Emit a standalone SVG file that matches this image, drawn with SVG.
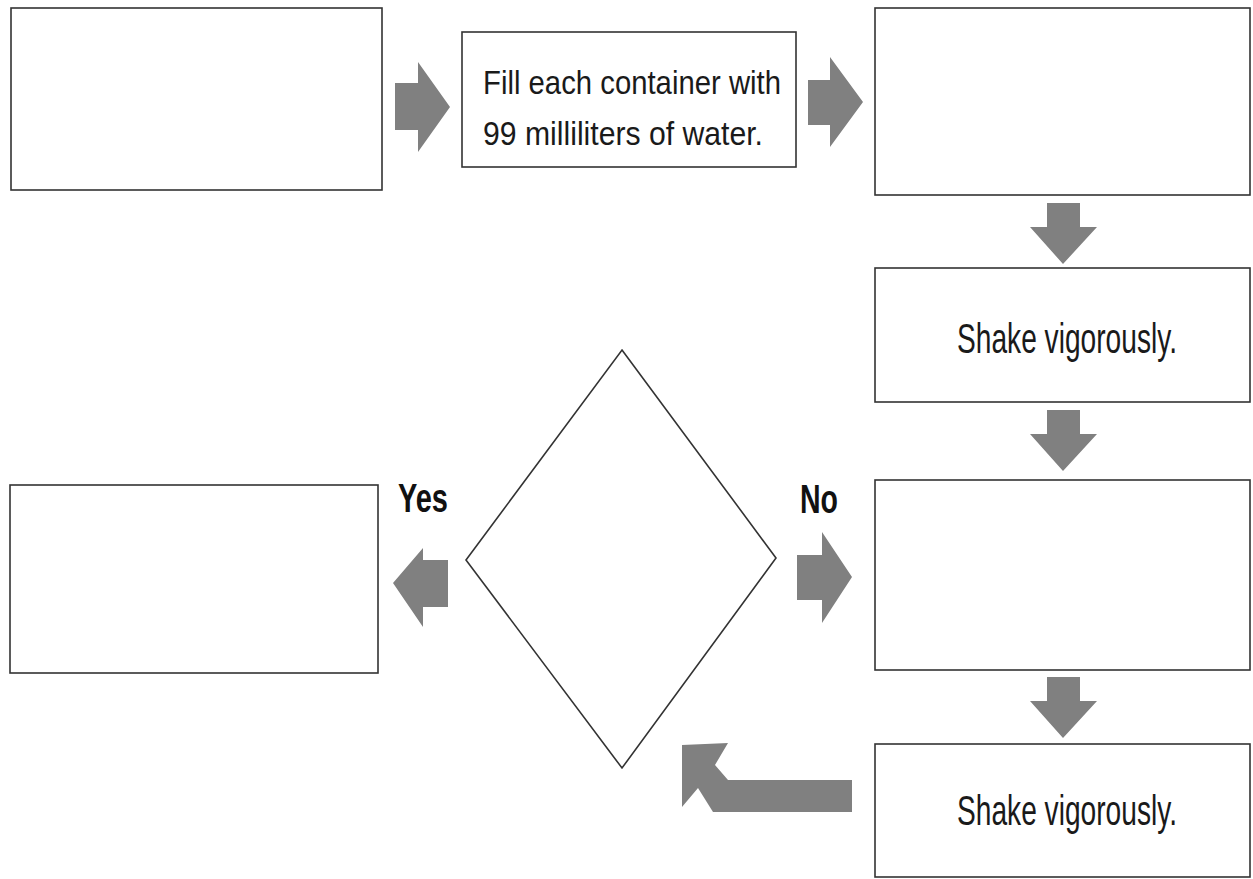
<svg xmlns="http://www.w3.org/2000/svg" width="1253" height="879" viewBox="0 0 1253 879">
<style>
.box{fill:#fff;stroke:#333;stroke-width:1.6}
.arr{fill:#808080}
.t{font-family:"Liberation Sans",Arial,sans-serif;font-size:34px;fill:#1a1a1a}
.s{font-family:"Liberation Sans",Arial,sans-serif;font-size:34px;fill:#1a1a1a;text-anchor:middle}
.b{font-family:"Liberation Sans",Arial,sans-serif;font-size:41px;font-weight:bold;fill:#111}
</style>
<rect width="1253" height="879" fill="#fff"/>
<g id="n1"><rect class="box" x="11" y="8" width="371" height="182"/></g>
<g id="n2"><rect class="box" x="462" y="32" width="334" height="135"/>
<text class="t" x="483" y="94" textLength="298" lengthAdjust="spacingAndGlyphs">Fill each container with</text>
<text class="t" x="483" y="145" textLength="280" lengthAdjust="spacingAndGlyphs">99 milliliters of water.</text></g>
<g id="n3"><rect class="box" x="875" y="8" width="375" height="187"/></g>
<g id="n4"><rect class="box" x="875" y="268" width="375" height="134"/>
<text class="s" transform="translate(1067,353) scale(1,1.26)" x="0" y="0" textLength="220" lengthAdjust="spacingAndGlyphs">Shake vigorously.</text></g>
<g id="n5"><rect class="box" x="875" y="480" width="375" height="190"/></g>
<g id="n6"><rect class="box" x="875" y="744" width="375" height="133"/>
<text class="s" transform="translate(1067,825) scale(1,1.26)" x="0" y="0" textLength="220" lengthAdjust="spacingAndGlyphs">Shake vigorously.</text></g>
<g id="n7"><polygon class="box" points="622,350 776,558 622,768 466,560"/></g>
<g id="n8"><rect class="box" x="10" y="485" width="368" height="188"/></g>
<g id="connectors">
<polygon class="arr" points="395,83 418,83 418,62 450,107 418,152 418,130 395,130"/>
<polygon class="arr" points="808,80 830,80 830,57 863,102 830,147 830,125 808,125"/>
<polygon class="arr" points="1047,203 1080,203 1080,227 1097,227 1063,264 1030,227 1047,227"/>
<polygon class="arr" points="1047,410 1080,410 1080,434 1097,434 1063,471 1030,434 1047,434"/>
<polygon class="arr" points="1047,677 1080,677 1080,701 1097,701 1063,738 1030,701 1047,701"/>
<polygon class="arr" points="448,560 423,560 423,548 393,583 423,627 423,607 448,607"/>
<polygon class="arr" points="797,555 822,555 822,532 852,577 822,623 822,600 797,600"/>
<polygon class="arr" points="682,745 728,743 715,765 728,780 852,780 852,812 713,812 698,788 682,807"/>
<text class="b" x="398" y="512" textLength="50" lengthAdjust="spacingAndGlyphs">Yes</text>
<text class="b" x="800" y="513" textLength="38" lengthAdjust="spacingAndGlyphs">No</text>
</g>
</svg>
